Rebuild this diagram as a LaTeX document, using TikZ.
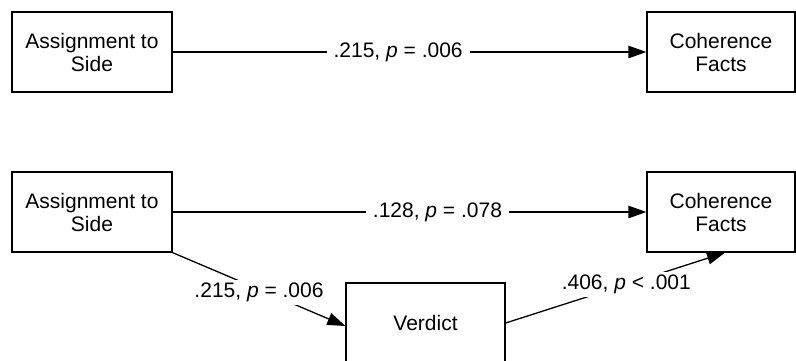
\documentclass[tikz,border=0pt]{standalone}
\usepackage{fontspec}
\setmainfont{Liberation Sans}
\usetikzlibrary{arrows.meta}
\begin{document}
\begin{tikzpicture}[x=1pt,y=-1pt,
  box/.style={draw, line width=1.3pt, minimum width=160pt, minimum height=80pt, align=center, inner sep=0pt, font=\fontsize{21}{23}\selectfont},
  lbl/.style={fill=white, inner ysep=3pt, inner xsep=7pt, font=\fontsize{21}{23}\selectfont},
  arr/.style={line width=1.3pt, -{Triangle[length=18pt,width=12.5pt]}}]
\useasboundingbox (0,0) rectangle (796,360);
\node[box] (a1) at (92,52) {Assignment to\\Side};
\node[box, minimum width=148pt] (c1) at (721,52) {Coherence\\Facts};
\node[box] (a2) at (92,212) {Assignment to\\Side};
\node[box, minimum width=148pt] (c2) at (721,212) {Coherence\\Facts};
\node[box, minimum width=159pt] (v) at (425.5,323) {Verdict};
\draw[arr] (a1) -- node[lbl, pos=0.476] {.215, {\itshape p} = .006} (c1);
\draw[arr] (a2) -- node[lbl, pos=0.559] {.128, {\itshape p} = .078} (c2);
\draw[arr] (a2.south east) -- node[lbl, inner xsep=2pt, yshift=-3pt] {.215, {\itshape p} = .006} ([yshift=-3pt]v.west);
\draw[arr] (v.east) -- node[lbl, inner xsep=2pt, pos=0.55] {.406, {\itshape p} < .001} ([xshift=4pt]c2.south);
\end{tikzpicture}
\end{document}
